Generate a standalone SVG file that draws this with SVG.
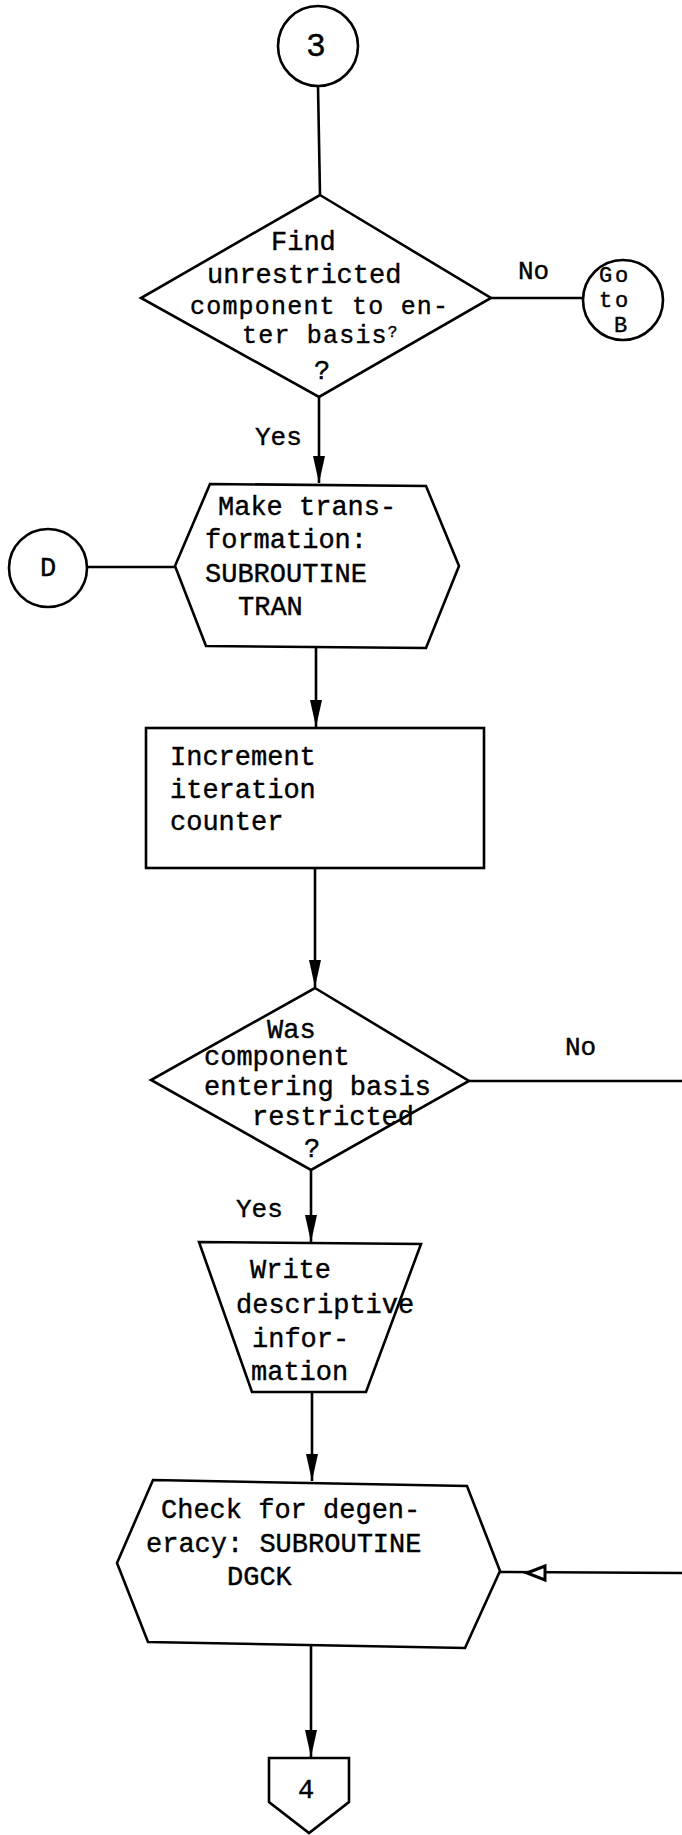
<svg xmlns="http://www.w3.org/2000/svg" width="682" height="1835" viewBox="0 0 682 1835">
<style>
.s{fill:#fff;stroke:#000;stroke-width:2.6;stroke-linejoin:miter}
.l{fill:none;stroke:#000;stroke-width:2.6}
.t{font-family:"Liberation Mono","Courier New",monospace;font-size:27px;fill:#000;stroke:#000;stroke-width:0.4}
.m{text-anchor:middle}
.lb{font-size:26px}
.c{font-size:25px;letter-spacing:1.2px}
.g{font-size:22px;letter-spacing:2.8px}
</style>
<defs>
<marker id="ah" markerUnits="userSpaceOnUse" markerWidth="28" markerHeight="14" refX="27" refY="6" orient="auto">
<path d="M0,0 L27,6 L0,12 z" fill="#000"/>
</marker>
</defs>
<rect width="682" height="1835" fill="#fff"/>
<g id="connectors">
<line class="l" x1="318" y1="86" x2="320" y2="195"/>
<line class="l" x1="491" y1="298" x2="584" y2="298"/>
<line class="l" x1="319" y1="397" x2="319" y2="483" marker-end="url(#ah)"/>
<line class="l" x1="87" y1="567" x2="175" y2="567"/>
<line class="l" x1="316" y1="648" x2="316" y2="727" marker-end="url(#ah)"/>
<line class="l" x1="315" y1="868" x2="315" y2="987" marker-end="url(#ah)"/>
<line class="l" x1="469" y1="1081" x2="682" y2="1081"/>
<line class="l" x1="311" y1="1170" x2="311" y2="1242" marker-end="url(#ah)"/>
<line class="l" x1="312" y1="1392" x2="312" y2="1481" marker-end="url(#ah)"/>
<line class="l" x1="682" y1="1573" x2="500" y2="1572"/>
<polygon points="527,1573 545,1566 545,1580" fill="#fff" stroke="#000" stroke-width="3"/>
<line class="l" x1="311" y1="1646" x2="311" y2="1757" marker-end="url(#ah)"/>
<text class="t lb" x="518" y="279">No</text>
<text class="t lb" x="255" y="445">Yes</text>
<text class="t lb" x="565" y="1055">No</text>
<text class="t lb" x="236" y="1217">Yes</text>
</g>
<g id="n3">
<circle class="s" cx="318" cy="46" r="40"/>
<text class="t m" x="316" y="56" style="font-size:33px">3</text>
</g>
<g id="d1">
<polygon class="s" points="320,195 491,298 319,397 141,298"/>
<text class="t" x="271" y="250">Find</text>
<text class="t" x="207" y="283">unrestricted</text>
<text class="t c" x="190" y="314">component to en-</text>
<text class="t c" x="242" y="343">ter basis<tspan style="font-size:16px;letter-spacing:0" dy="-6">?</tspan></text>
<text class="t m" x="322" y="379">?</text>
</g>
<g id="goB">
<circle class="s" cx="623" cy="300" r="40"/>
<text class="t g" x="599" y="282">Go</text>
<text class="t g" x="599" y="307">to</text>
<text class="t g" x="614" y="332">B</text>
</g>
<g id="h1">
<polygon class="s" points="210,484 426,486 459,566 426,648 206,646 175,566"/>
<text class="t" x="218" y="515">Make trans-</text>
<text class="t" x="205" y="548">formation:</text>
<text class="t" x="205" y="582">SUBROUTINE</text>
<text class="t" x="238" y="615">TRAN</text>
</g>
<g id="nD">
<circle class="s" cx="48" cy="568" r="39"/>
<text class="t m" x="48" y="576">D</text>
</g>
<g id="r1">
<rect class="s" x="146" y="728" width="338" height="140"/>
<text class="t" x="170" y="765">Increment</text>
<text class="t" x="170" y="798">iteration</text>
<text class="t" x="170" y="830">counter</text>
</g>
<g id="d2">
<polygon class="s" points="315,988 469,1081 311,1170 151,1080"/>
<text class="t" x="267" y="1038">Was</text>
<text class="t" x="204" y="1065">component</text>
<text class="t" x="204" y="1095">entering basis</text>
<text class="t" x="252" y="1125">restricted</text>
<text class="t m" x="312" y="1157">?</text>
</g>
<g id="w1">
<polygon class="s" points="199,1242 421,1244 366,1392 252,1392"/>
<text class="t" x="250" y="1278">Write</text>
<text class="t" x="236" y="1313">descriptive</text>
<text class="t" x="252" y="1347">infor-</text>
<text class="t" x="251" y="1380">mation</text>
</g>
<g id="h2">
<polygon class="s" points="153,1480 467,1486 500,1571 465,1648 148,1642 117,1563"/>
<text class="t" x="161" y="1518">Check for degen-</text>
<text class="t" x="146" y="1552">eracy: SUBROUTINE</text>
<text class="t" x="227" y="1585">DGCK</text>
</g>
<g id="n4">
<polygon class="s" points="269,1758 349,1758 349,1802 309,1833 269,1802"/>
<text class="t m" x="306" y="1798">4</text>
</g>
</svg>
